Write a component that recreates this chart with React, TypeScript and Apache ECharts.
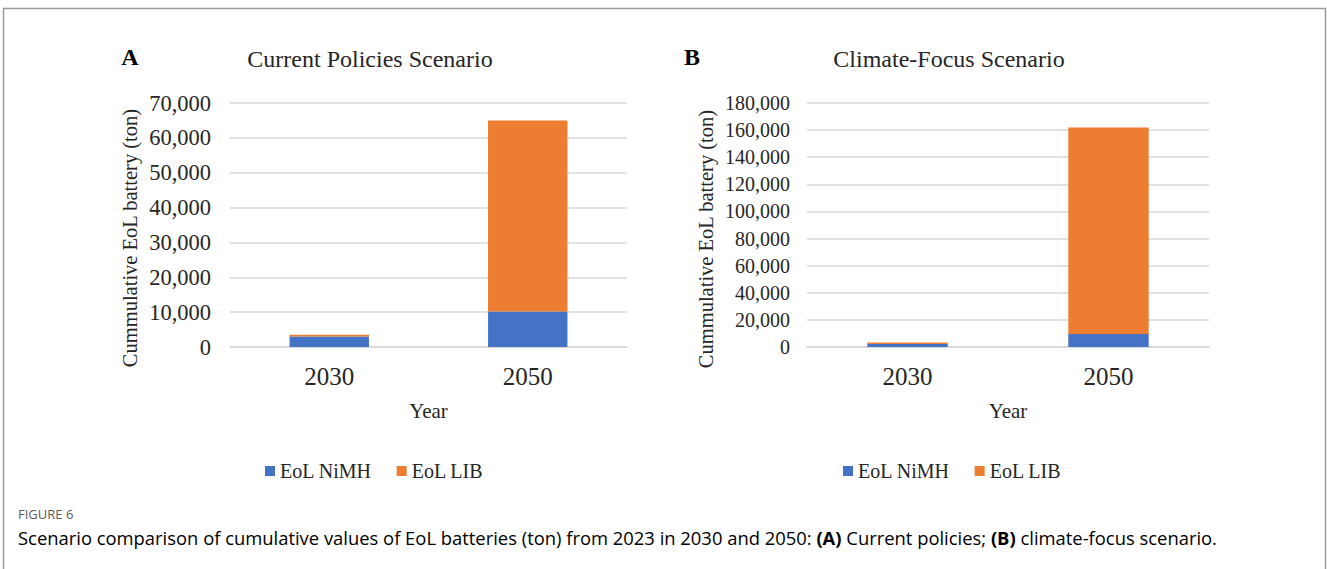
import React, { useEffect, useRef } from "react";
import * as echarts from "echarts";

const categories = ["2030", "2050"];
const nimhA = [3000, 10200];
const libA = [500, 54800];
const nimhB = [2300, 9500];
const libB = [1100, 152500];
const ticksA = { min: 0, max: 70000, interval: 10000 };
const ticksB = { min: 0, max: 180000, interval: 20000 };
const seriesNames = ["EoL NiMH", "EoL LIB"];
const colors = ["#4472C4", "#ED7D31"];

const SERIF = "'Liberation Serif', 'Times New Roman', serif";
const SANS = "'Open Sans', 'Noto Sans', sans-serif";

export default function App() {
  const ref = useRef<HTMLDivElement>(null);
  useEffect(() => {
    if (!ref.current) return;
    const chart = echarts.init(ref.current, undefined, { renderer: "svg" });
    const fmt = (v: number) => v.toLocaleString("en-US");
    const yAxisBase = (t: any, gi: number, margin: number, fs: number) => ({
      type: "value",
      gridIndex: gi,
      min: t.min,
      max: t.max,
      interval: t.interval,
      axisLine: { show: false },
      axisTick: { show: false },
      axisLabel: { fontFamily: SERIF, fontSize: fs, color: "#262626", formatter: fmt, margin },
      splitLine: { lineStyle: { color: "#d9d9d9", width: 1.5 } },
    });
    const xAxisBase = (gi: number) => ({
      type: "category",
      gridIndex: gi,
      data: categories,
      name: "Year",
      nameLocation: "middle",
      nameGap: 53,
      nameTextStyle: { fontFamily: SERIF, fontSize: 21, color: "#262626" },
      axisLine: { lineStyle: { color: "#d9d9d9", width: 1.5 } },
      axisTick: { show: false },
      axisLabel: { fontFamily: SERIF, fontSize: 25, color: "#262626", margin: 17 },
    });
    const mk = (name: string, data: number[], gi: number, ci: number) => ({
      type: "bar",
      name,
      stack: "s" + gi,
      xAxisIndex: gi,
      yAxisIndex: gi,
      data,
      barWidth: "40%",
      itemStyle: { color: colors[ci] },
    });
    const legendBase = (left: number) => ({
      left,
      top: 461,
      padding: 0,
      data: seriesNames,
      itemWidth: 10,
      itemHeight: 10,
      itemGap: 25,
      icon: "rect",
      selectedMode: false,
      textStyle: { fontFamily: SERIF, fontSize: 20, color: "#262626" },
    });
    const yName = (x: number, y: number) => ({
      type: "text",
      x,
      y,
      rotation: Math.PI / 2,
      style: {
        text: "Cummulative EoL battery (ton)",
        font: `20.5px ${SERIF}`,
        fill: "#262626",
        textAlign: "center",
        textVerticalAlign: "middle",
      },
    });
    chart.setOption({
      animation: false,
      backgroundColor: "#ffffff",
      grid: [
        { left: 230, top: 103, width: 397, height: 244 },
        { left: 807, top: 103, width: 402, height: 244 },
      ],
      xAxis: [xAxisBase(0), xAxisBase(1)],
      yAxis: [yAxisBase(ticksA, 0, 19, 22.5), yAxisBase(ticksB, 1, 17, 20)],
      legend: [legendBase(265), legendBase(843)],
      series: [
        mk(seriesNames[0], nimhA, 0, 0),
        mk(seriesNames[1], libA, 0, 1),
        mk(seriesNames[0], nimhB, 1, 0),
        mk(seriesNames[1], libB, 1, 1),
      ],
      graphic: [
        {
          type: "polyline",
          shape: { points: [[3.5, 569], [3.5, 8.5], [1325.5, 8.5], [1325.5, 569]] },
          style: { stroke: "#9a9a9a", lineWidth: 1.5, fill: "none" },
        },
        yName(130, 238),
        yName(706, 239),
        { type: "text", x: 130, y: 57, style: { text: "A", font: `bold 24px ${SERIF}`, fill: "#000", textAlign: "center", textVerticalAlign: "middle" } },
        { type: "text", x: 692, y: 57, style: { text: "B", font: `bold 24px ${SERIF}`, fill: "#000", textAlign: "center", textVerticalAlign: "middle" } },
        { type: "text", x: 370, y: 59, style: { text: "Current Policies Scenario", font: `24px ${SERIF}`, fill: "#262626", textAlign: "center", textVerticalAlign: "middle" } },
        { type: "text", x: 949, y: 59, style: { text: "Climate-Focus Scenario", font: `24px ${SERIF}`, fill: "#262626", textAlign: "center", textVerticalAlign: "middle" } },
        { type: "text", x: 18, y: 514, style: { text: "FIGURE 6", font: `13px ${SANS}`, fill: "#5a5a5a", textVerticalAlign: "middle" } },
        {
          type: "text",
          x: 18,
          y: 537,
          style: {
            text: "{n|Scenario comparison of cumulative values of EoL batteries (ton) from 2023 in 2030 and 2050: }{b|(A)}{n| Current policies; }{b|(B)}{n| climate-focus scenario.}",
            textVerticalAlign: "middle",
            rich: {
              n: { fontFamily: SANS, fontSize: 18.4, color: "#555555" },
              b: { fontFamily: SANS, fontSize: 18.4, fontWeight: "bold", color: "#555555" },
            },
          },
        },
      ],
    });
    return () => chart.dispose();
  }, []);
  return <div ref={ref} style={{ position: "fixed", left: 0, top: 0, width: 1327, height: 569 }} />;
}
